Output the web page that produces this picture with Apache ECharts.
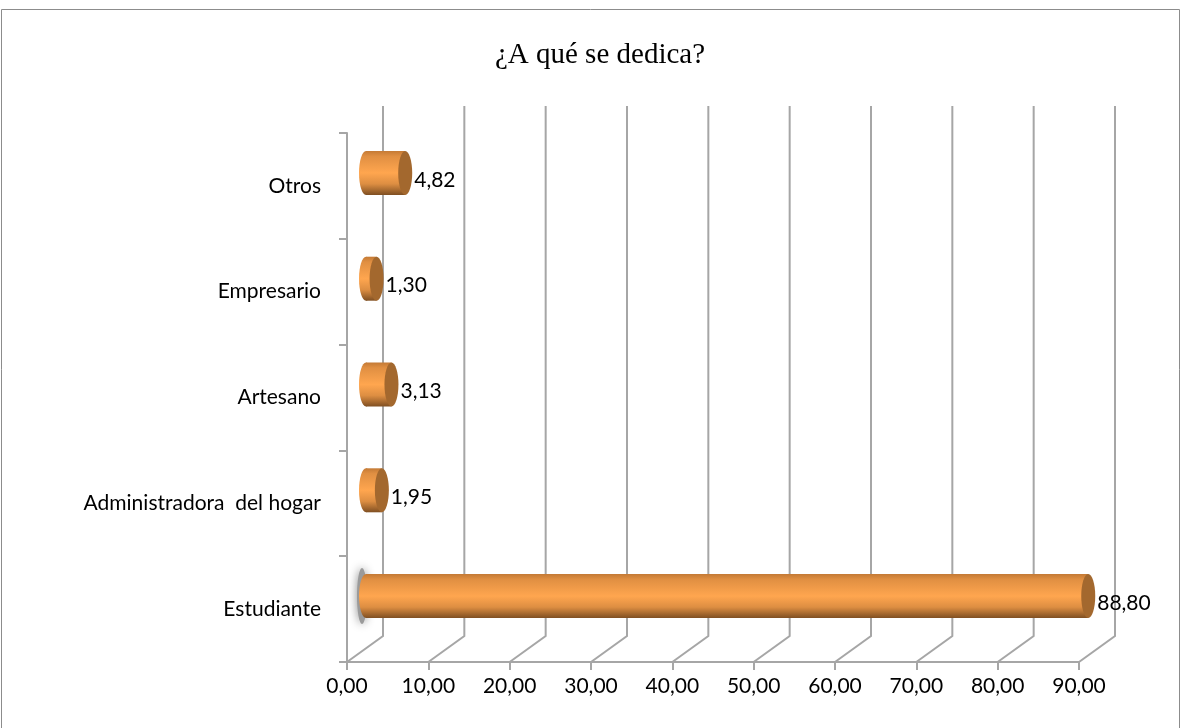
<!DOCTYPE html>
<html>
<head>
    <meta charset="UTF-8">
    <title>¿A qué se dedica?</title>
    <script src="https://cdn.jsdelivr.net/npm/echarts/dist/echarts.min.js"></script>
    <style>
        html, body { margin: 0; padding: 0; background: #fff; }
        #main { width: 1184px; height: 728px; }
    </style>
</head>
<body>
    <div id="main"></div>
    <script type="text/javascript">
        var categories = ['Estudiante', 'Administradora  del hogar', 'Artesano', 'Empresario', 'Otros'];
        var values = [88.80, 1.95, 3.13, 1.30, 4.82];
        var xTicks = [0, 10, 20, 30, 40, 50, 60, 70, 80, 90];

        var myChart = echarts.init(document.getElementById('main'));
        var wallColor = '#a6a6a6';
        var fmt = function (v) { return v.toFixed(2).replace('.', ','); };

        // floor diagonals and back wall verticals, the 3D box
        function renderWall(params, api) {
            var v = api.value(0);
            var g = params.coordSys;
            var x = api.coord([v, 0])[0];
            var bottom = g.y + g.height;
            return {
                type: 'polyline',
                shape: { points: [[x, bottom], [x + 36, bottom - 26], [x + 36, g.y - 27]] },
                style: { stroke: wallColor, lineWidth: 2, fill: null }
            };
        }

        // cylinder bars
        function renderBar(params, api) {
            var p0 = api.coord([0, api.value(1)]);
            var p1 = api.coord([api.value(0), api.value(1)]);
            var x0 = p0[0] + 19, x1 = p1[0] + 19, cy = p0[1] - 13, h = 22, rx = 7;
            var children = [];
            if (params.dataIndex === 0) {
                children.push({
                    type: 'ellipse',
                    shape: { cx: x0 - 4, cy: cy - 0, rx: 5, ry: 28 },
                    style: { fill: '#9a9a9a', shadowBlur: 10, shadowColor: '#8a8a8a' }
                });
            }
            var grad = new echarts.graphic.LinearGradient(0, 0, 0, 1, [
                { offset: 0, color: '#c47a35' },
                { offset: 0.12, color: '#e08f42' },
                { offset: 0.5, color: '#ffa64f' },
                { offset: 0.75, color: '#dd8e42' },
                { offset: 1, color: '#7f4f22' }
            ]);
            children.push({ type: 'ellipse', shape: { cx: x0, cy: cy, rx: rx, ry: h }, style: { fill: grad } });
            children.push({ type: 'rect', shape: { x: x0, y: cy - h, width: x1 - x0, height: 2 * h }, style: { fill: grad } });
            children.push({ type: 'ellipse', shape: { cx: x1, cy: cy, rx: rx, ry: h }, style: { fill: '#a3682e' } });
            children.push({
                type: 'text',
                style: {
                    x: x1 + rx + 2, y: cy + 7, text: fmt(api.value(0)),
                    font: '21px Lato', fill: '#000', align: 'left', verticalAlign: 'middle'
                }
            });
            return { type: 'group', children: children };
        }

        var option = {
            animation: false,
            backgroundColor: '#fff',
            title: {
                text: '¿A qué se dedica?',
                left: 595,
                top: 36,
                textAlign: 'center',
                textStyle: { fontFamily: 'Liberation Serif', fontSize: 29, fontWeight: 'normal', color: '#000' }
            },
            graphic: [{
                type: 'rect',
                silent: true,
                z: -1,
                shape: { x: 1.5, y: 9.5, width: 1178, height: 730 },
                style: { fill: null, stroke: '#8c8c8c', lineWidth: 1 }
            }],
            grid: { left: 347, right: 105, top: 133, bottom: 66 },
            xAxis: {
                type: 'value',
                min: 0,
                max: 90,
                interval: 10,
                splitLine: { show: false },
                axisLine: { show: true, lineStyle: { color: wallColor, width: 2 } },
                axisTick: { show: true, length: 8, lineStyle: { color: wallColor, width: 2 } },
                axisLabel: {
                    margin: 14, fontFamily: 'Lato', fontSize: 21, color: '#000',
                    formatter: function (v) { return fmt(v); }
                }
            },
            yAxis: {
                type: 'category',
                data: categories,
                axisLine: { show: true, lineStyle: { color: wallColor, width: 2 } },
                axisTick: { show: true, length: 8, lineStyle: { color: wallColor, width: 2 } },
                axisLabel: { margin: 26, fontFamily: 'Lato', fontSize: 21, color: '#000' }
            },
            series: [
                { type: 'custom', renderItem: renderWall, data: xTicks.map(function (t) { return [t]; }), encode: { x: 0 }, z: 1, silent: true },
                { type: 'custom', renderItem: renderBar, data: values.map(function (v, i) { return [v, i]; }), encode: { x: 0, y: 1 }, z: 2, clip: false }
            ]
        };

        myChart.setOption(option);
    </script>
</body>
</html>
